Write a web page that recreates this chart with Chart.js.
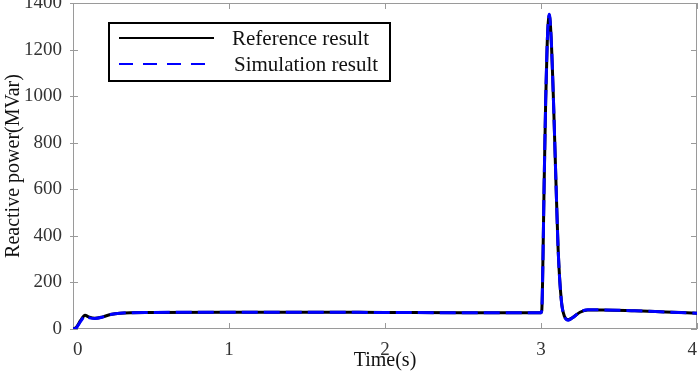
<!DOCTYPE html>
<html lang="en">
  <head>
    <meta charset="UTF-8" />
    <title>Reactive power</title>
    <script src="https://cdn.jsdelivr.net/npm/chart.js"></script>
    <style>
      html, body { margin: 0; padding: 0; background: #fff; }
      #wrap { width: 699px; height: 373px; }
    </style>
  </head>
  <body>
    <div id="wrap"><canvas id="qChart"></canvas></div>
    <script>
      const times = [0, 0.02, 0.05, 0.077, 0.1, 0.14, 0.19, 0.24, 0.3, 0.5, 1, 1.5, 2, 2.5, 2.9, 3.0, 3.005, 3.01, 3.02, 3.03, 3.04, 3.053, 3.065, 3.08, 3.095, 3.11, 3.13, 3.15, 3.175, 3.2, 3.25, 3.3, 3.4, 3.6, 3.8, 4.0];
      const reference = [0, 6, 38, 59, 52, 46, 52, 62, 68, 71, 72, 72, 71, 70, 70, 70, 80, 200, 620, 980, 1230, 1350, 1250, 980, 650, 340, 125, 55, 40, 48, 72, 82, 82, 78, 73, 68];
      const simulation = [0, 4, 34, 55, 49, 45, 51, 62, 68, 71, 72, 72, 71, 70, 70, 70, 80, 200, 620, 980, 1230, 1352, 1250, 980, 650, 340, 125, 55, 38, 47, 72, 83, 82, 78, 73, 68];
      const xTicks = [0, 1, 2, 3, 4];
      const yTicks = [0, 200, 400, 600, 800, 1000, 1200, 1400];

      const serif = '"Liberation Serif", "Times New Roman", serif';
      const toPoints = (vals) => vals.map((v, i) => ({ x: times[i], y: v }));

      // box round the plot with short inward ticks on all four sides
      const framePlugin = {
        id: "frame",
        beforeDatasetsDraw(chart) {
          const { ctx, chartArea: a, scales } = chart;
          ctx.save();
          ctx.strokeStyle = "#9a9a9a";
          ctx.lineWidth = 1;
          ctx.strokeRect(a.left + 0.5, a.top + 0.5, a.right - a.left - 1, a.bottom - a.top - 1);
          ctx.beginPath();
          xTicks.forEach((t) => {
            const px = Math.round(scales.x.getPixelForValue(t)) + 0.5;
            ctx.moveTo(px, a.bottom); ctx.lineTo(px, a.bottom - 6);
            ctx.moveTo(px, a.top); ctx.lineTo(px, a.top + 6);
          });
          yTicks.forEach((t) => {
            const py = Math.round(scales.y.getPixelForValue(t)) + 0.5;
            ctx.moveTo(a.left - 3, py); ctx.lineTo(a.left + 5, py);
            ctx.moveTo(a.right, py); ctx.lineTo(a.right - 6, py);
          });
          ctx.stroke();
          ctx.restore();
        },
        afterDraw(chart) {
          const ctx = chart.ctx;
          ctx.save();
          ctx.fillStyle = "#fff";
          ctx.fillRect(109, 23, 281, 58);
          ctx.strokeStyle = "#000";
          ctx.lineWidth = 2;
          ctx.strokeRect(109, 23, 281, 58);
          chart.data.datasets.forEach((ds, i) => {
            const y = 38 + i * 26;
            ctx.beginPath();
            ctx.strokeStyle = ds.borderColor;
            ctx.lineWidth = 2;
            ctx.setLineDash(i ? [14, 10] : []);
            ctx.moveTo(119, y);
            ctx.lineTo(214, y);
            ctx.stroke();
            ctx.setLineDash([]);
            ctx.fillStyle = "#111";
            ctx.font = "21px " + serif;
            ctx.textBaseline = "middle";
            ctx.fillText(ds.label, 232 + i * 2, y + 1);
          });
          ctx.restore();
        },
      };

      new Chart(document.getElementById("qChart"), {
        type: "line",
        data: {
          datasets: [
            {
              label: "Reference result",
              data: toPoints(reference),
              borderColor: "#000000",
              borderWidth: 3,
              pointRadius: 0,
              cubicInterpolationMode: "monotone",
              order: 2,
            },
            {
              label: "Simulation result",
              data: toPoints(simulation),
              borderColor: "#0000ff",
              borderWidth: 3,
              borderDash: [16, 6],
              pointRadius: 0,
              cubicInterpolationMode: "monotone",
              order: 1,
            },
          ],
        },
        options: {
          responsive: true,
          maintainAspectRatio: false,
          animation: false,
          layout: { padding: { top: 3, right: 2, left: 0, bottom: 0 } },
          plugins: { legend: { display: false }, tooltip: { enabled: false } },
          scales: {
            x: {
              type: "linear",
              min: 0,
              max: 4,
              afterBuildTicks: (s) => { s.ticks = xTicks.map((v) => ({ value: v })); },
              afterFit: (s) => { s.height = 44; s.paddingLeft = 0; s.paddingRight = 0; },
              grid: { display: false },
              border: { display: false },
              ticks: { color: "#333", font: { family: serif, size: 19 }, padding: 2, maxRotation: 0, align: "inner", callback: (v) => String(v) },
              title: { display: true, text: "Time(s)", color: "#111", font: { family: serif, size: 20 }, padding: { top: -3, bottom: 0 } },
            },
            y: {
              min: 0,
              max: 1400,
              afterBuildTicks: (s) => { s.ticks = yTicks.map((v) => ({ value: v })); },
              afterFit: (s) => { s.width = 73; s.paddingTop = 0; s.paddingBottom = 0; },
              grid: { display: false },
              border: { display: false },
              ticks: { color: "#333", font: { family: serif, size: 19 }, padding: 3, callback: (v) => String(v) },
              title: { display: true, text: "Reactive power(MVar)", color: "#111", font: { family: serif, size: 20 }, padding: { top: 2, bottom: 0 } },
            },
          },
        },
        plugins: [framePlugin],
      });
    </script>
  </body>
</html>
